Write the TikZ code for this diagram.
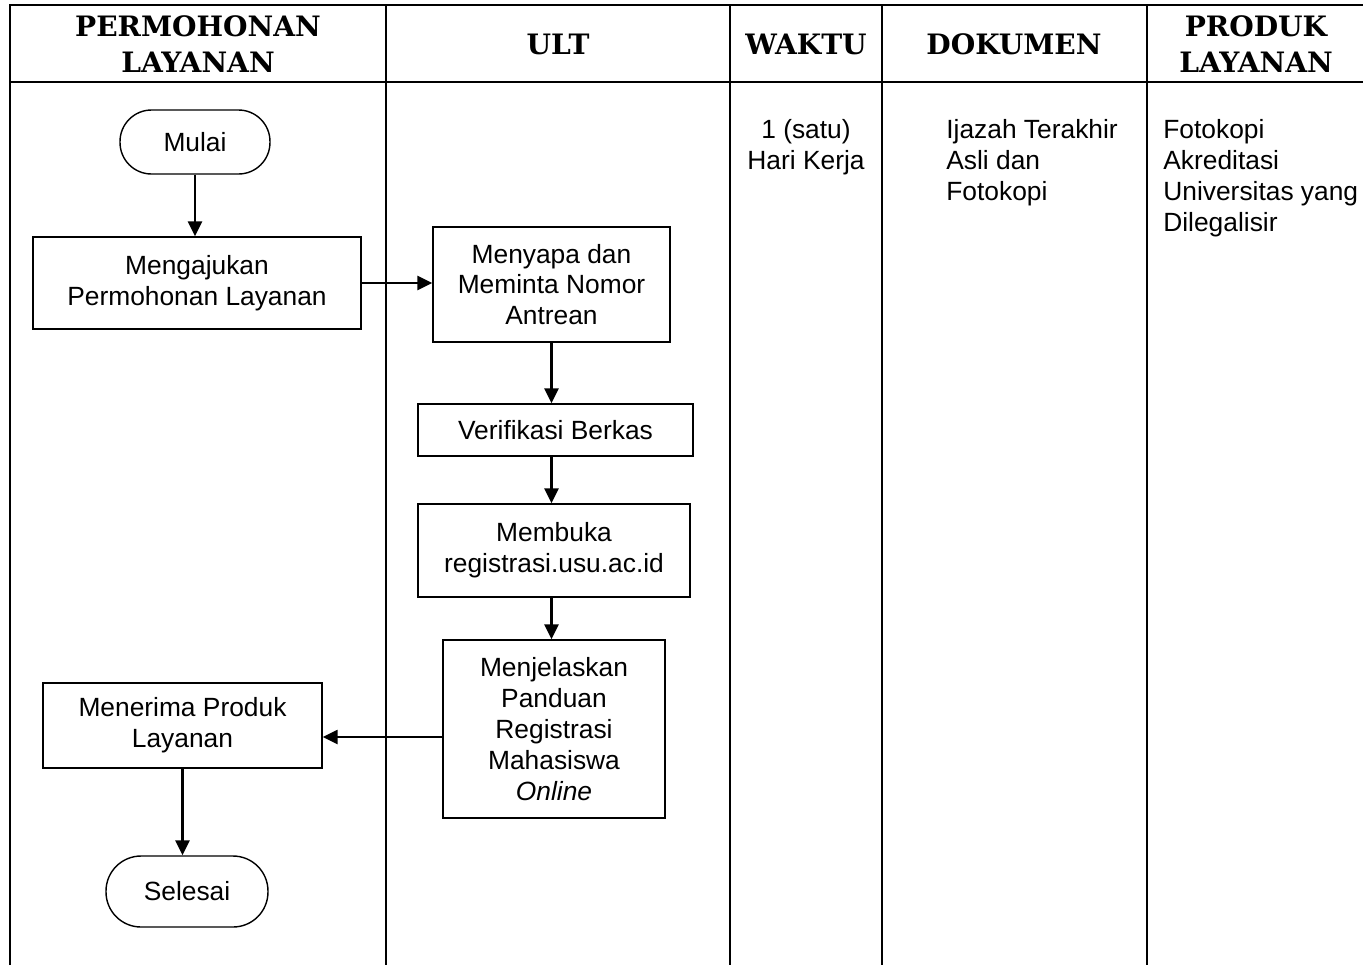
\documentclass[tikz,border=0pt]{standalone}
\usepackage{fontspec}
\setmainfont{Liberation Sans}
\newfontfamily\hdrfont{DejaVu Serif}
\usetikzlibrary{arrows.meta}
\begin{document}
\begin{tikzpicture}[x=0.02cm,y=-0.02cm,
  grid/.style={line width=1.2pt},
  hdr/.style={font=\hdrfont\bfseries\fontsize{16}{20}\selectfont, align=center, inner sep=0},
  body/.style={font=\fontsize{15}{17.6}\selectfont, inner sep=0},
  procbox/.style={draw, line width=0.8pt, align=center, inner sep=0, font=\fontsize{15}{17.6}\selectfont},
  term/.style={draw, line width=0.8pt, align=center, inner sep=0, font=\fontsize{15}{17.6}\selectfont},
  flow/.style={line width=1.4pt, -{Triangle[length=0.3cm,width=0.28cm]}}
]
\useasboundingbox (0,0) rectangle (1363,965);
% table
\draw[grid] (10,965) -- (10,5) -- (1363,5);
\draw[grid] (10,82) -- (1363,82);
\draw[grid] (386,5) -- (386,965);
\draw[grid] (730,5) -- (730,965);
\draw[grid] (882,5) -- (882,965);
\draw[grid] (1147,5) -- (1147,965);
% headers
\node[hdr] (h1) at (198,44) {PERMOHONAN\\LAYANAN};
\node[hdr] (h2) at (558,44) {ULT};
\node[hdr] (h3) at (806,44) {WAKTU};
\node[hdr] (h4) at (1014,44) {DOKUMEN};
\node[hdr] (h5) at (1256,44) {PRODUK\\LAYANAN};
% info columns
\node[body, align=center, anchor=north] (waktu) at (806,119) {1 (satu)\\Hari Kerja};
\node[body, align=left, anchor=north west] (dok) at (946,119) {Ijazah Terakhir\\Asli dan\\Fotokopi};
\node[body, align=left, anchor=north west] (prod) at (1163,119) {Fotokopi\\Akreditasi\\Universitas yang\\Dilegalisir};
% flow nodes
\node[term, minimum width=3cm, minimum height=1.28cm, rounded corners=0.63cm] (mulai) at (195,142) {Mulai};
\node[procbox, minimum width=6.56cm, minimum height=1.84cm] (ajukan) at (197,283) {Mengajukan\\Permohonan Layanan};
\node[procbox, minimum width=4.74cm, minimum height=2.3cm] (sapa) at (551.5,284.5) {Menyapa dan\\Meminta Nomor\\Antrean};
\node[procbox, minimum width=5.5cm, minimum height=1.04cm] (verif) at (555.5,430) {Verifikasi Berkas};
\node[procbox, minimum width=5.44cm, minimum height=1.86cm] (buka) at (554,550.5) {Membuka\\registrasi.usu.ac.id};
\node[procbox, minimum width=4.44cm, minimum height=3.56cm] (jelas) at (554,729) {Menjelaskan\\Panduan\\Registrasi\\Mahasiswa\\\textit{Online}};
\node[procbox, minimum width=5.58cm, minimum height=1.7cm] (terima) at (182.5,725.5) {Menerima Produk\\Layanan};
\node[term, minimum width=3.24cm, minimum height=1.42cm, rounded corners=0.7cm] (selesai) at (187,891.5) {Selesai};
% connectors
\draw[flow] (mulai.south) -- (mulai.south |- ajukan.north);
\draw[flow] (ajukan.east) -- (ajukan.east -| sapa.west);
\draw[flow] (sapa.south) -- (sapa.south |- verif.north);
\draw[flow] (verif.south -| sapa.south) -- (sapa.south |- buka.north);
\draw[flow] (buka.south -| sapa.south) -- (sapa.south |- jelas.north);
\draw[flow] (jelas.west |- 0,737) -- (terima.east |- 0,737);
\draw[flow] (terima.south) -- (terima.south |- selesai.north);
\end{tikzpicture}
\end{document}
